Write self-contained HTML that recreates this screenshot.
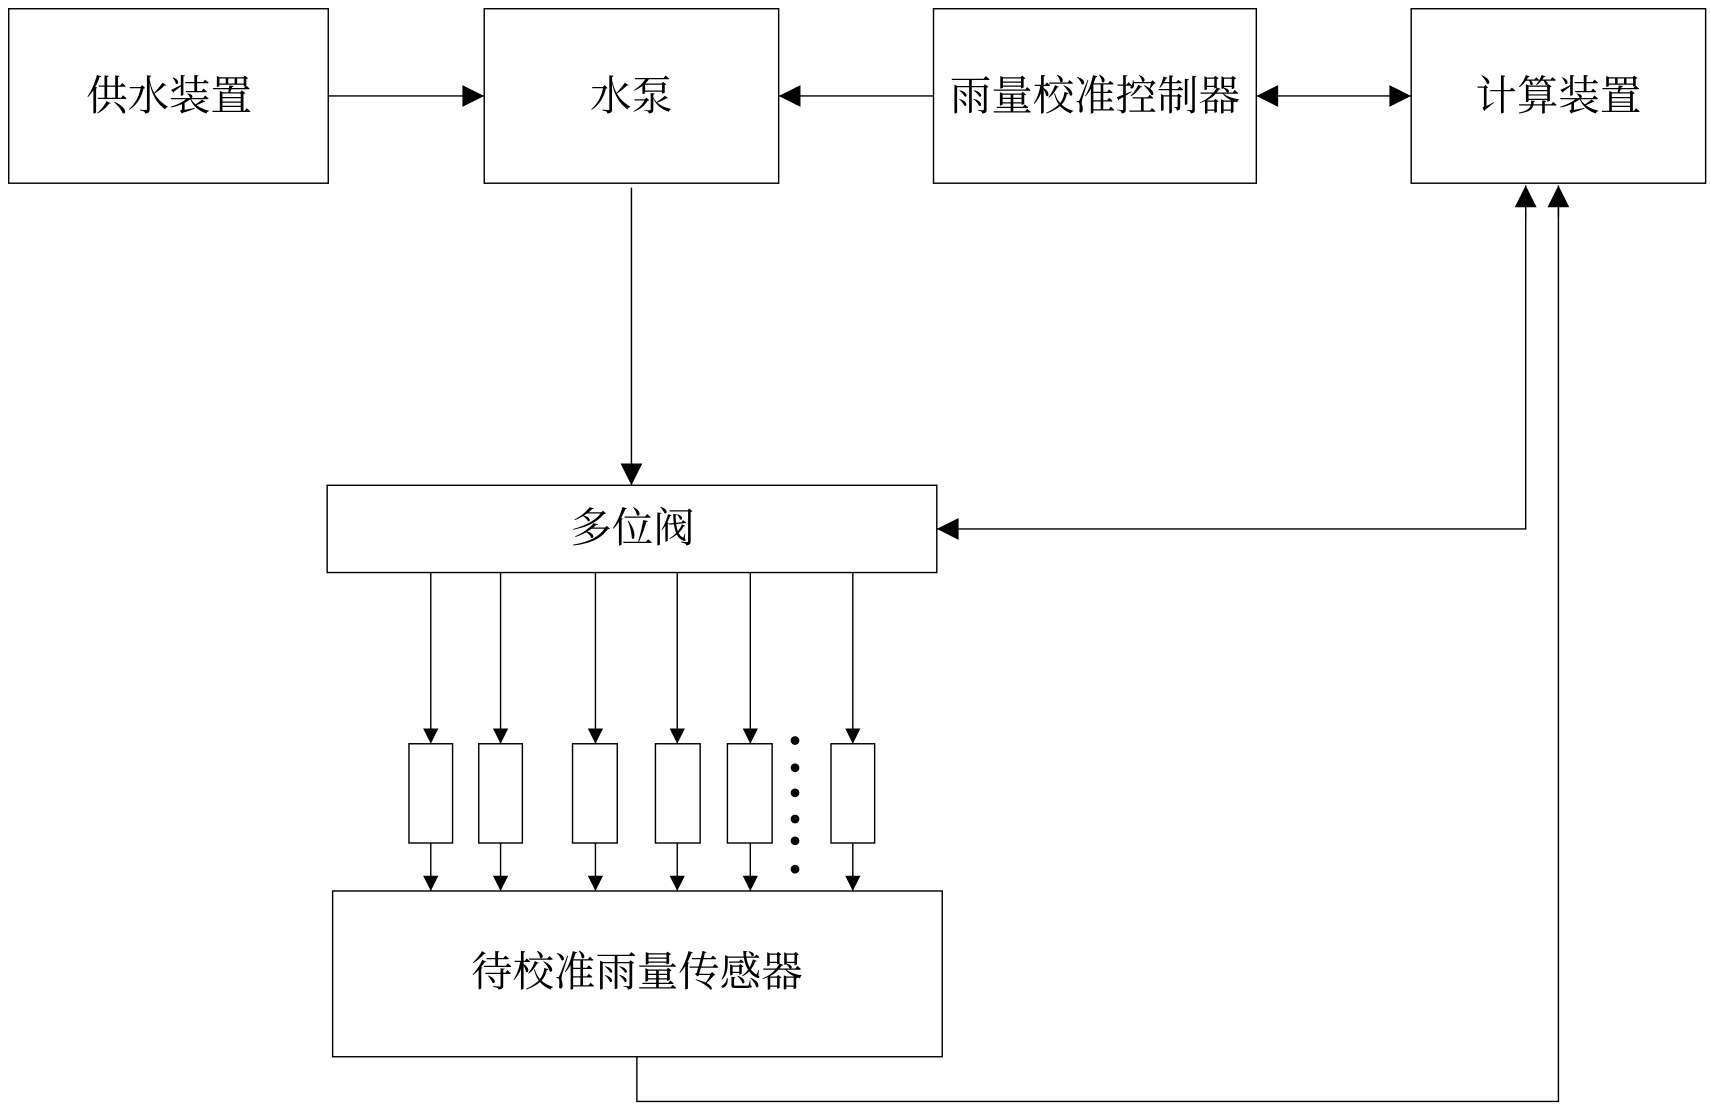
<!DOCTYPE html>
<html><head><meta charset="utf-8"><style>html,body{margin:0;padding:0;background:#fff;}svg{display:block}</style></head>
<body>
<svg width="1710" height="1108" viewBox="0 0 1568 1016" preserveAspectRatio="none" xmlns="http://www.w3.org/2000/svg">
<defs>
<marker id="a" viewBox="0 0 10 10" refX="10" refY="5" markerWidth="24" markerHeight="20" markerUnits="userSpaceOnUse" orient="auto"><path d="M0,0 L10,5 L0,10 z" fill="#000"/></marker>
<marker id="s" viewBox="0 0 10 10" refX="10" refY="5" markerWidth="16" markerHeight="14" markerUnits="userSpaceOnUse" orient="auto"><path d="M0,0 L10,5 L0,10 z" fill="#000"/></marker>
</defs>
<g fill="none" stroke="#000" stroke-width="1.3">
<rect x="8" y="8" width="293" height="160"/>
<rect x="444" y="8" width="270" height="160"/>
<rect x="856" y="8" width="296" height="160"/>
<rect x="1294" y="8" width="270" height="160"/>
<rect x="300" y="445" width="559" height="80"/>
<rect x="305" y="817" width="559" height="152"/>
<rect x="375" y="682" width="40" height="91"/>
<rect x="439" y="682" width="40" height="91"/>
<rect x="525" y="682" width="41" height="91"/>
<rect x="601" y="682" width="41" height="91"/>
<rect x="667" y="682" width="41" height="91"/>
<rect x="762" y="682" width="40" height="91"/>
<line x1="301" y1="88" x2="444" y2="88" marker-end="url(#a)"/>
<line x1="856" y1="88" x2="714" y2="88" marker-end="url(#a)"/>
<line x1="1172" y1="88" x2="1152" y2="88" marker-end="url(#a)"/>
<line x1="1160" y1="88" x2="1294" y2="88" marker-end="url(#a)"/>
<line x1="579" y1="172" x2="579" y2="445" marker-end="url(#a)"/>
<polyline points="1399,193 1399,485 880,485"/>
<line x1="880" y1="485" x2="859" y2="485" marker-end="url(#a)"/>
<line x1="1399" y1="200" x2="1399" y2="170" marker-end="url(#a)"/>
<polyline points="584,969 584,1010 1429,1010 1429,190"/>
<line x1="1429" y1="200" x2="1429" y2="170" marker-end="url(#a)"/>
<line x1="395" y1="525" x2="395" y2="682" marker-end="url(#s)"/>
<line x1="459" y1="525" x2="459" y2="682" marker-end="url(#s)"/>
<line x1="546" y1="525" x2="546" y2="682" marker-end="url(#s)"/>
<line x1="621" y1="525" x2="621" y2="682" marker-end="url(#s)"/>
<line x1="688" y1="525" x2="688" y2="682" marker-end="url(#s)"/>
<line x1="782" y1="525" x2="782" y2="682" marker-end="url(#s)"/>
<line x1="395" y1="773" x2="395" y2="817" marker-end="url(#s)"/>
<line x1="459" y1="773" x2="459" y2="817" marker-end="url(#s)"/>
<line x1="546" y1="773" x2="546" y2="817" marker-end="url(#s)"/>
<line x1="621" y1="773" x2="621" y2="817" marker-end="url(#s)"/>
<line x1="688" y1="773" x2="688" y2="817" marker-end="url(#s)"/>
<line x1="782" y1="773" x2="782" y2="817" marker-end="url(#s)"/>
</g>
<g fill="#000">
<circle cx="729" cy="679" r="4"/><circle cx="729" cy="704" r="4"/><circle cx="729" cy="727" r="4"/>
<circle cx="729" cy="751" r="4"/><circle cx="729" cy="771" r="4"/><circle cx="729" cy="797" r="4"/>
</g>
<g font-family="'Liberation Serif','Noto Serif CJK SC',serif" font-size="38" text-anchor="middle" fill="#000">
<text x="155" y="101">供水装置</text>
<text x="579" y="101">水泵</text>
<text x="1004" y="101">雨量校准控制器</text>
<text x="1429" y="101">计算装置</text>
<text x="580" y="497">多位阀</text>
<text x="584" y="904">待校准雨量传感器</text>
</g>
</svg>
</body></html>
